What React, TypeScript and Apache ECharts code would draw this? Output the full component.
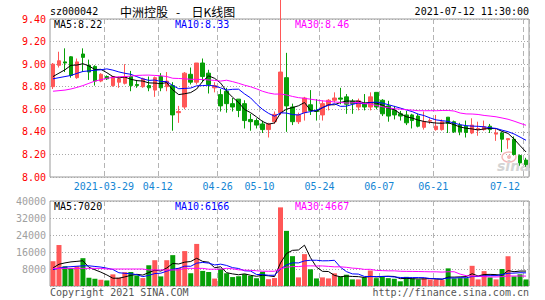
import React, { useEffect, useRef } from "react";
import * as echarts from "echarts";

// ---- data ----
const dates = [
  "2021-03-16","2021-03-17","2021-03-18","2021-03-19","2021-03-22","2021-03-23","2021-03-24","2021-03-25","2021-03-26","2021-03-29",
  "2021-03-30","2021-03-31","2021-04-01","2021-04-02","2021-04-06","2021-04-07","2021-04-08","2021-04-09","2021-04-12","2021-04-13",
  "2021-04-14","2021-04-15","2021-04-16","2021-04-19","2021-04-20","2021-04-21","2021-04-22","2021-04-23","2021-04-26","2021-04-27",
  "2021-04-28","2021-04-29","2021-04-30","2021-05-06","2021-05-07","2021-05-10","2021-05-11","2021-05-12","2021-05-13","2021-05-14",
  "2021-05-17","2021-05-18","2021-05-19","2021-05-20","2021-05-21","2021-05-24","2021-05-25","2021-05-26","2021-05-27","2021-05-28",
  "2021-05-31","2021-06-01","2021-06-02","2021-06-03","2021-06-04","2021-06-07","2021-06-08","2021-06-09","2021-06-10","2021-06-11",
  "2021-06-15","2021-06-16","2021-06-17","2021-06-18","2021-06-21","2021-06-22","2021-06-23","2021-06-24","2021-06-25","2021-06-28",
  "2021-06-29","2021-06-30","2021-07-01","2021-07-02","2021-07-05","2021-07-06","2021-07-07","2021-07-08","2021-07-09","2021-07-12",
];

const tickDates = ["2021-03-29","2021-04-12","2021-04-26","2021-05-10","2021-05-24","2021-06-07","2021-06-21","2021-07-12"];
const tickLabels = ["2021-03-29","04-12","04-26","05-10","05-24","06-07","06-21","07-12"];

const opens = [
  8.80, 8.99, 9.02, 9.065, 8.88, 9.09, 8.99, 8.98, 8.85, 8.89,
  8.81, 8.84, 8.83, 8.89, 8.82, 8.80, 8.81, 8.77, 8.89, 8.80,
  8.81, 8.57, 8.62, 8.91, 8.84, 9.01, 8.92, 8.79, 8.73, 8.76,
  8.65, 8.69, 8.65, 8.51, 8.50, 8.47, 8.42, 8.49, 8.57, 8.88,
  8.62, 8.49, 8.57, 8.64, 8.59, 8.55, 8.64, 8.68, 8.70, 8.71,
  8.67, 8.62, 8.645, 8.62, 8.75, 8.68, 8.63, 8.59, 8.56, 8.55,
  8.55, 8.54, 8.44, 8.495, 8.42, 8.42, 8.53, 8.49, 8.46, 8.45,
  8.39, 8.42, 8.42, 8.45, 8.38, 8.39, 8.33, 8.335, 8.19, 8.15,
];
const closes = [
  9.00, 9.03, 9.01, 8.90, 9.02, 9.06, 8.93, 8.85, 8.91, 8.87,
  8.89, 8.87, 8.89, 8.81, 8.81, 8.87, 8.79, 8.88, 8.79, 8.85,
  8.55, 8.58, 8.92, 8.84, 9.01, 8.89, 8.82, 8.81, 8.63, 8.65,
  8.62, 8.59, 8.50, 8.49, 8.46, 8.42, 8.47, 8.555, 8.93, 8.63,
  8.49, 8.55, 8.70, 8.59, 8.58, 8.65, 8.68, 8.70, 8.69, 8.645,
  8.65, 8.675, 8.62, 8.71, 8.62, 8.56, 8.54, 8.55, 8.54, 8.48,
  8.50, 8.45, 8.49, 8.50, 8.45, 8.49, 8.475, 8.40, 8.40, 8.395,
  8.46, 8.43, 8.445, 8.42, 8.39, 8.335, 8.34, 8.20, 8.125, 8.11,
];
const lows = [
  8.78, 8.97, 8.93, 8.88, 8.87, 8.93, 8.86, 8.81, 8.84, 8.86,
  8.80, 8.79, 8.82, 8.76, 8.79, 8.79, 8.76, 8.71, 8.76, 8.76,
  8.41, 8.48, 8.60, 8.82, 8.82, 8.84, 8.74, 8.75, 8.58, 8.57,
  8.58, 8.53, 8.43, 8.41, 8.43, 8.39, 8.35, 8.47, 8.55, 8.40,
  8.46, 8.47, 8.50, 8.55, 8.50, 8.50, 8.59, 8.66, 8.645, 8.56,
  8.56, 8.59, 8.59, 8.59, 8.60, 8.54, 8.49, 8.51, 8.50, 8.46,
  8.43, 8.44, 8.42, 8.47, 8.41, 8.41, 8.39, 8.39, 8.37, 8.35,
  8.38, 8.365, 8.41, 8.39, 8.32, 8.22, 8.25, 8.19, 8.10, 8.09,
];
const highs = [
  9.01, 9.11, 9.14, 9.07, 9.05, 9.14, 9.04, 8.99, 8.92, 8.90,
  8.89, 8.89, 9.00, 8.94, 8.86, 8.88, 8.89, 8.89, 8.92, 8.93,
  8.84, 8.63, 8.93, 8.97, 9.01, 9.05, 8.95, 8.84, 8.78, 8.79,
  8.70, 8.69, 8.68, 8.56, 8.52, 8.50, 8.48, 8.58, 9.58, 9.10,
  8.65, 8.57, 8.71, 8.77, 8.69, 8.68, 8.69, 8.75, 8.79, 8.735,
  8.69, 8.695, 8.735, 8.75, 8.75, 8.69, 8.675, 8.63, 8.585, 8.585,
  8.56, 8.56, 8.58, 8.52, 8.55, 8.51, 8.53, 8.50, 8.48, 8.50,
  8.52, 8.49, 8.50, 8.47, 8.43, 8.40, 8.34, 8.36, 8.20, 8.17,
];
const volumes = [
  11660, 19280, 9280, 8490, 9280, 13090, 3885, 3410, 2940, 2620,
  5475, 3890, 6500, 6590, 5000, 3730, 9760, 12140, 4520, 12140,
  14520, 8500, 16430, 6000, 19800, 7100, 6600, 3500, 8170, 6000,
  4200, 4600, 5600, 4800, 3600, 6700, 3200, 3730, 37000, 25950,
  14045, 4050, 15000, 7860, 3570, 4050, 3570, 5950, 4520, 5320,
  3100, 3100, 4000, 7300, 3700, 4300, 3700, 3400, 2200, 4300,
  3600, 3100, 3600, 3100, 3100, 2800, 8300, 3600, 3700, 3700,
  9500, 3100, 7000, 4050, 3100, 8000, 14000, 4520, 5500, 3080,
];

// moving-average values at the left edge (history before the window)
const priceMa5Start = [8.89, 8.92, 8.95, 8.99];
const priceMa10Start = [8.87, 8.88, 8.89, 8.90, 8.918, 8.935, 8.94, 8.946, 8.95];
const priceMa30Start = [
  8.76, 8.765, 8.77, 8.78, 8.794, 8.81, 8.83, 8.85, 8.862, 8.875,
  8.882, 8.888, 8.89, 8.894, 8.90, 8.902, 8.903, 8.90, 8.897, 8.89,
  8.875, 8.873, 8.87, 8.866, 8.865, 8.864, 8.86, 8.856, 8.85,
];
const volMa5Start = [8490, 10240, 10870, 11350];
const volMa10Start = [7700, 8400, 8900, 9100, 9300, 9500, 9500, 9200, 8900];
const volMa30Start = [
  8300, 8300, 8300, 8300, 8300, 8300, 8300, 8300, 8300, 8000,
  8000, 8000, 8000, 8000, 8000, 8000, 7550, 7550, 7550, 7550,
  7550, 7550, 8300, 8300, 8300, 8300, 7900, 7900, 7900,
];

const priceMaLabels = ["MA5:8.22", "MA10:8.33", "MA30:8.46"];
const volMaLabels = ["MA5:7020", "MA10:6166", "MA30:4667"];
const stockCode = "sz000042";
const stockName = "中洲控股";
const chartKind = "日K线图";
const timeStamp = "2021-07-12 11:30:00";
const copyright = "Copyright 2021 SINA.COM";
const siteUrl = "http://finance.sina.com.cn";

// ---- helpers ----
function movingAverage(values: number[], n: number, start: number[]) {
  return values.map((_, i) => {
    if (i < n - 1) return start[i];
    let s = 0;
    for (let k = i - n + 1; k <= i; k++) s += values[k];
    return s / n;
  });
}

const RED = "#ff5757";
const GREEN = "#079f07";
const MONO = "'DejaVu Sans Mono', 'Liberation Mono', monospace";
const GRID_L = 50;
const GRID_W = 479;

function isTick(i: number) {
  return tickDates.indexOf(dates[i]) >= 0;
}

function buildOption() {
  const candles = dates.map((_, i) => [opens[i], closes[i], lows[i], highs[i]]);
  const up = dates.map((_, i) =>
    closes[i] > opens[i] ? true : closes[i] < opens[i] ? false : i === 0 || closes[i] >= closes[i - 1]
  );
  const volBars = volumes.map((v, i) => ({ value: v, itemStyle: { color: up[i] ? RED : GREEN } }));

  const pm5 = movingAverage(closes, 5, priceMa5Start);
  const pm10 = movingAverage(closes, 10, priceMa10Start);
  const pm30 = movingAverage(closes, 30, priceMa30Start);
  const vm5 = movingAverage(volumes, 5, volMa5Start);
  const vm10 = movingAverage(volumes, 10, volMa10Start);
  const vm30 = movingAverage(volumes, 30, volMa30Start);

  const splitLine = {
    show: true,
    interval: (i: number) => isTick(i),
    lineStyle: { color: "#b4b4b4", width: 1, type: [5, 3] as any },
  };
  const dotted = { show: true, lineStyle: { color: "#a8a8a8", width: 1, type: [1, 2] as any } };

  const line = (data: number[], color: string, x: number) => ({
    type: "line",
    xAxisIndex: x,
    yAxisIndex: x,
    data,
    symbol: "none",
    showSymbol: false,
    silent: true,
    lineStyle: { color, width: 1 },
    z: 3,
  });

  const txt = (text: string, x: number, y: number, fill: string, font: string, align = "left") => ({
    type: "text",
    x,
    y,
    z: 20,
    silent: true,
    style: {
      text,
      fill,
      font,
      align,
      textAlign: align,
      verticalAlign: "middle",
      textVerticalAlign: "middle",
    },
  });

  const f10 = `10px ${MONO}`;
  const cjk = "12px 'Noto Sans CJK SC', sans-serif";

  return {
    animation: false,
    backgroundColor: "#ffffff",
    grid: [
      { left: GRID_L, top: 19, width: GRID_W, height: 158, show: true, borderColor: "#9a9a9a", borderWidth: 1, backgroundColor: "transparent" },
      { left: GRID_L, top: 201, width: GRID_W, height: 85, show: true, borderColor: "#9a9a9a", borderWidth: 1, backgroundColor: "transparent" },
    ],
    xAxis: [
      {
        type: "category",
        gridIndex: 0,
        data: dates,
        boundaryGap: true,
        axisLine: { show: false },
        axisTick: { show: false },
        axisLabel: {
          interval: (i: number) => isTick(i),
          formatter: (v: string) => tickLabels[tickDates.indexOf(v)] ?? "",
          color: "#1486d4",
          fontFamily: MONO,
          fontSize: 10,
          margin: 4,
          padding: [0, 6, 0, 0],
          alignMaxLabel: "right",
        },
        splitLine,
      },
      {
        type: "category",
        gridIndex: 1,
        data: dates,
        boundaryGap: true,
        axisLine: { show: false },
        axisTick: { show: false },
        axisLabel: { show: false },
        splitLine,
      },
    ],
    yAxis: [
      {
        type: "value",
        gridIndex: 0,
        min: 8,
        max: 9.4,
        interval: 0.2,
        axisLine: { show: false },
        axisTick: { show: false },
        axisLabel: {
          color: "#ff0000",
          fontFamily: MONO,
          fontSize: 10,
          margin: 4,
          formatter: (v: number) => v.toFixed(2),
        },
        splitLine: dotted,
      },
      {
        type: "value",
        gridIndex: 1,
        min: 0,
        max: 40000,
        interval: 8000,
        axisLine: { show: false },
        axisTick: { show: false },
        axisLabel: {
          color: "#a0a0a0",
          fontFamily: MONO,
          fontSize: 10,
          margin: 4,
          formatter: (v: number) => (v === 0 ? "" : String(v)),
        },
        splitLine: dotted,
      },
    ],
    series: [
      {
        type: "candlestick",
        xAxisIndex: 0,
        yAxisIndex: 0,
        data: candles,
        barWidth: 4,
        clip: false,
        silent: true,
        itemStyle: { color: RED, color0: GREEN, borderColor: RED, borderColor0: GREEN, borderWidth: 1 },
        z: 2,
      },
      line(pm5, "#000000", 0),
      line(pm10, "#0000ff", 0),
      line(pm30, "#ff00ff", 0),
      {
        type: "bar",
        xAxisIndex: 1,
        yAxisIndex: 1,
        data: volBars,
        barWidth: 5,
        silent: true,
        z: 2,
      },
      line(vm5, "#000000", 1),
      line(vm10, "#0000ff", 1),
      line(vm30, "#ff00ff", 1),
    ],
    graphic: [
      txt(stockCode, 50, 11, "#000", f10),
      txt(stockName, 120, 11, "#000", cjk),
      txt("-", 176, 11, "#000", cjk),
      txt(chartKind, 191.5, 11, "#000", cjk),
      txt(timeStamp, 529, 11, "#000", f10, "right"),
      txt(priceMaLabels[0], 54, 24.5, "#000000", f10),
      txt(priceMaLabels[1], 175, 24.5, "#0000ff", f10),
      txt(priceMaLabels[2], 295, 24.5, "#ff00ff", f10),
      txt(volMaLabels[0], 54, 206.5, "#000000", f10),
      txt(volMaLabels[1], 175, 206.5, "#0000ff", f10),
      txt(volMaLabels[2], 295, 206.5, "#ff00ff", f10),
      txt(copyright, 50, 292.5, "#555", f10),
      txt(siteUrl, 529, 292.5, "#555", f10, "right"),
      // faint sina watermark
      {
        type: "ellipse",
        z: 1,
        silent: true,
        shape: { cx: 509, cy: 157, rx: 7, ry: 5 },
        style: { fill: "none", stroke: "#f4b8b8", lineWidth: 1.5 },
      },
      {
        type: "circle",
        z: 1,
        silent: true,
        shape: { cx: 509, cy: 157, r: 2 },
        style: { fill: "#f4b8b8" },
      },
      {
        type: "text",
        z: 1,
        silent: true,
        x: 497,
        y: 166,
        style: {
          text: "sina",
          fill: "#d4d4d4",
          font: "italic bold 14px 'DejaVu Sans', sans-serif",
          align: "left",
          textAlign: "left",
          verticalAlign: "middle",
          textVerticalAlign: "middle",
        },
      },
    ],
  };
}

export default function App() {
  const ref = useRef<HTMLDivElement>(null);
  useEffect(() => {
    if (!ref.current) return;
    const chart = echarts.init(ref.current, null, { renderer: "svg" });
    chart.setOption(buildOption() as any);
    return () => chart.dispose();
  }, []);
  return (
    <div
      ref={ref}
      style={{ position: "absolute", left: 0, top: 0, width: 545, height: 300, background: "#fff" }}
    />
  );
}
